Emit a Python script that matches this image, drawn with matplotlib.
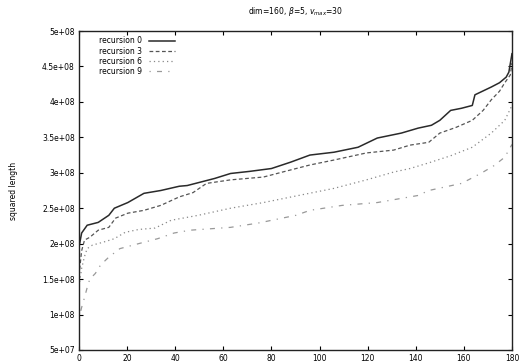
import numpy as np
import matplotlib
matplotlib.use('Agg')
import matplotlib.pyplot as plt

# values in units of 1e8
rec0_x = [0, 1.1, 3.4, 8, 12.4, 14.7, 20.3, 27, 34, 41.7, 45, 56.4, 63, 71, 80, 88, 96, 106,
          116, 124, 134, 141, 146.5, 150, 154.5, 159, 163.5, 164.6, 171.4, 174.8, 177.6, 178.7, 180]
rec0_y = [1.95, 2.15, 2.26, 2.30, 2.40, 2.50, 2.58, 2.71, 2.75, 2.81, 2.82, 2.92, 2.99, 3.02,
          3.06, 3.15, 3.25, 3.29, 3.36, 3.49, 3.56, 3.63, 3.67, 3.74, 3.88, 3.91, 3.95, 4.10,
          4.21, 4.27, 4.35, 4.42, 4.68]

rec3_x = [0, 1.1, 2.3, 4.5, 8, 12.4, 15.2, 20.3, 27, 34, 41.7, 47.4, 53, 63, 76.7, 85.7, 96,
          106, 119.5, 130.8, 137.6, 145.4, 150, 156.7, 163.5, 168, 171.4, 174.8, 177, 179.3, 180]
rec3_y = [1.55, 1.90, 2.05, 2.09, 2.19, 2.23, 2.36, 2.43, 2.47, 2.54, 2.66, 2.72, 2.85, 2.90,
          2.94, 3.02, 3.11, 3.18, 3.28, 3.32, 3.39, 3.43, 3.56, 3.64, 3.74, 3.88, 4.03, 4.15,
          4.27, 4.38, 4.55]

rec6_x = [0, 1.1, 2.3, 3.4, 5.6, 10, 14.7, 19.2, 24.8, 31.6, 38.3, 49.6, 63, 76.7, 91.3, 106,
          119.5, 130.8, 137.6, 145.4, 154.5, 163.5, 171.4, 177, 180]
rec6_y = [1.40, 1.65, 1.82, 1.93, 1.98, 2.02, 2.07, 2.16, 2.20, 2.22, 2.33, 2.40, 2.50, 2.58,
          2.68, 2.78, 2.90, 3.01, 3.06, 3.14, 3.24, 3.36, 3.56, 3.74, 3.95]

rec9_x = [0, 1.1, 2.3, 3.4, 4.5, 6.8, 9, 12.4, 17, 27, 32.7, 39.5, 46.2, 63, 74.4, 90.2, 96,
          109.4, 124, 141, 145.4, 159, 167, 172.5, 177, 180]
rec9_y = [0.95, 1.10, 1.24, 1.38, 1.50, 1.58, 1.70, 1.81, 1.93, 2.02, 2.07, 2.15, 2.19, 2.23,
          2.29, 2.40, 2.47, 2.54, 2.58, 2.68, 2.75, 2.85, 2.99, 3.10, 3.22, 3.40]

yticks = [0.5, 1, 1.5, 2, 2.5, 3, 3.5, 4, 4.5, 5]
ylabels = ['5e+07', '1e+08', '1.5e+08', '2e+08', '2.5e+08', '3e+08',
           '3.5e+08', '4e+08', '4.5e+08', '5e+08']
xticks = [0, 20, 40, 60, 80, 100, 120, 140, 160, 180]

fig = plt.figure(figsize=(5.21, 3.64), dpi=100)
ax = fig.add_axes([0.1516, 0.0385, 0.8311, 0.8763])

ax.plot(rec0_x, np.array(rec0_y) * 1e8, color='#2a2a2a', lw=1.1, label='recursion 0')
ax.plot(rec3_x, np.array(rec3_y) * 1e8, color='#555555', lw=0.9, ls=(0, (3, 2)), label='recursion 3')
ax.plot(rec6_x, np.array(rec6_y) * 1e8, color='#888888', lw=0.9, ls=(0, (1, 2.5)), label='recursion 6')
ax.plot(rec9_x, np.array(rec9_y) * 1e8, color='#999999', lw=0.9, ls=(0, (1, 5, 4, 5)), label='recursion 9')

ax.set_xlim(0, 180)
ax.set_ylim(0.5e8, 5e8)
ax.set_yticks([v * 1e8 for v in yticks])
ax.set_yticklabels(ylabels)
ax.set_xticks(xticks)
ax.set_xticklabels([str(t) for t in xticks])
ax.tick_params(direction='in', top=True, right=True, labelsize=5.5, length=3, width=0.8, pad=3)
for s in ax.spines.values():
    s.set_linewidth(1.0)
    s.set_color('#222222')

ax.set_title(r'dim=160, $\beta$=5, $v_{max}$=30', fontsize=5.5, pad=12)
ax.set_ylabel('squared length', fontsize=5.5, labelpad=17)

ax.legend(loc='upper left', frameon=False, fontsize=5.5, markerfirst=False,
          handlelength=3.5, labelspacing=0.15, borderaxespad=0.3, bbox_to_anchor=(0.035, 1.0))

fig.savefig('out.png', dpi=100)
